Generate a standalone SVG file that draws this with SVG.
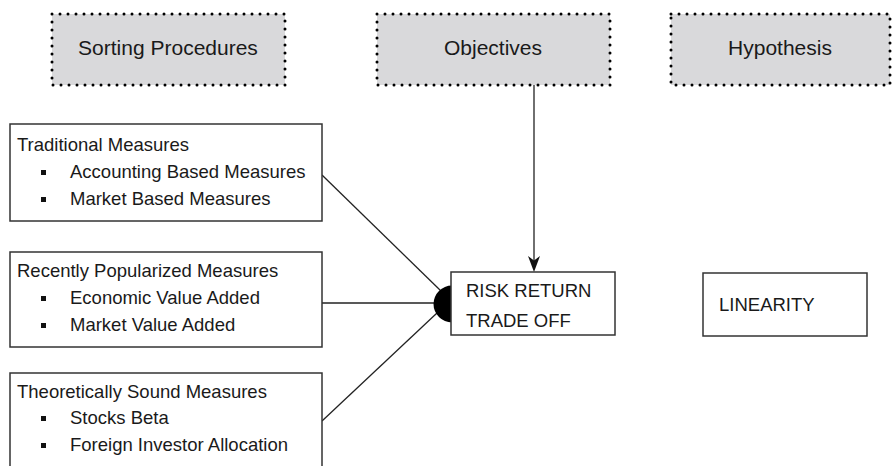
<svg xmlns="http://www.w3.org/2000/svg" width="893" height="466" viewBox="0 0 893 466">
<style>
.hdr{fill:#d9d9db;stroke:#000;stroke-width:3;stroke-dasharray:0 8;stroke-linecap:round}
.box{fill:#fff;stroke:#333;stroke-width:1.5}
.ht{font-family:"Liberation Sans",Arial,sans-serif;font-size:21px;fill:#1a1a1a;text-anchor:middle}
.t{font-family:"Liberation Sans",Arial,sans-serif;font-size:18.5px;fill:#1a1a1a}
.bul{fill:#111}
.conn{stroke:#222;stroke-width:1.3;fill:none}
</style>
<rect width="893" height="466" fill="#fff"/>
<g id="sorting">
<rect class="hdr" x="52" y="14" width="233" height="71"/>
<text class="ht" x="168" y="55">Sorting Procedures</text>
</g>
<g id="objectives">
<rect class="hdr" x="377" y="14" width="233" height="71"/>
<text class="ht" x="493" y="55">Objectives</text>
</g>
<g id="hypothesis">
<rect class="hdr" x="671" y="14" width="219" height="71"/>
<text class="ht" x="780" y="55">Hypothesis</text>
</g>
<g id="connectors">
<line class="conn" x1="534" y1="85" x2="534" y2="262"/>
<polygon points="534,272 528,256 534,260.5 540,256" fill="#111"/>
<line class="conn" x1="322" y1="175" x2="441" y2="291"/>
<line class="conn" x1="322" y1="303" x2="436" y2="303"/>
<line class="conn" x1="322" y1="421" x2="437" y2="313"/>
</g>
<g id="traditional">
<rect class="box" x="10" y="124" width="312" height="97"/>
<text class="t" x="17" y="151">Traditional Measures</text>
<rect class="bul" x="41" y="170" width="5" height="5"/>
<text class="t" x="70" y="178">Accounting Based Measures</text>
<rect class="bul" x="41" y="197" width="5" height="5"/>
<text class="t" x="70" y="205">Market Based Measures</text>
</g>
<g id="recently">
<rect class="box" x="10" y="252" width="312" height="95"/>
<text class="t" x="17" y="277">Recently Popularized Measures</text>
<rect class="bul" x="41" y="296" width="5" height="5"/>
<text class="t" x="70" y="304">Economic Value Added</text>
<rect class="bul" x="41" y="323" width="5" height="5"/>
<text class="t" x="70" y="331">Market Value Added</text>
</g>
<g id="theoretically">
<rect class="box" x="10" y="373" width="312" height="100"/>
<text class="t" x="17" y="398">Theoretically Sound Measures</text>
<rect class="bul" x="41" y="416" width="5" height="5"/>
<text class="t" x="70" y="424">Stocks Beta</text>
<rect class="bul" x="41" y="443" width="5" height="5"/>
<text class="t" x="70" y="451">Foreign Investor Allocation</text>
</g>
<g id="riskreturn">
<path d="M452,285.5 A18.5,18.5 0 0 0 452,322.5 Z" fill="#000"/>
<rect class="box" x="451" y="272" width="164" height="63"/>
<text class="t" x="466" y="297">RISK RETURN</text>
<text class="t" x="466" y="327">TRADE OFF</text>
</g>
<g id="linearity">
<rect class="box" x="703" y="273" width="164" height="63"/>
<text class="t" x="719" y="311">LINEARITY</text>
</g>
</svg>
